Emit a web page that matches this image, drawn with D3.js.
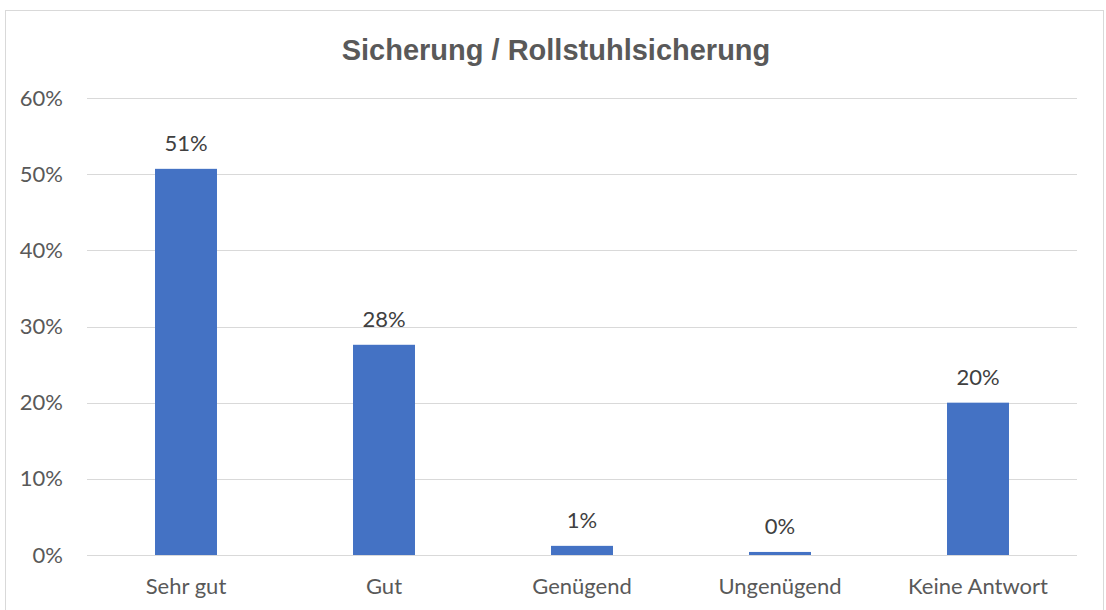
<!DOCTYPE html>
<html lang="de">
  <head>
    <meta charset="utf-8">
    <title>Sicherung / Rollstuhlsicherung</title>
    <script src="https://d3js.org/d3.v7.min.js"></script>
    <style>
      body { margin: 0; background: #fff; }
      .tick text { font-family: Lato, "Open Sans", sans-serif; font-size: 22px; fill: #595959; }
    </style>
  </head>
  <body>
    <script type="text/javascript">
    // chart data
    var categories = ["Sehr gut", "Gut", "Genügend", "Ungenügend", "Keine Antwort"];
    var values = [0.507, 0.276, 0.012, 0.004, 0.200];
    var labels = ["51%", "28%", "1%", "0%", "20%"];
    var yTicks = [0, 0.1, 0.2, 0.3, 0.4, 0.5, 0.6];

    var w = 1106;
    var h = 610;
    var margin = { top: 98, right: 29, bottom: 55, left: 87 };

    var svg = d3.select("body")
                .append("svg")
                .attr("width", w)
                .attr("height", h);

    // outer chart border
    svg.append("rect")
       .attr("x", 5.5)
       .attr("y", 10.5)
       .attr("width", 1098)
       .attr("height", 610)
       .attr("fill", "none")
       .attr("stroke", "#d9d9d9");

    var xScale = d3.scaleBand()
                   .domain(categories)
                   .range([margin.left, w - margin.right])
                   .paddingInner(0.687)
                   .paddingOuter(0.3435);

    var yScale = d3.scaleLinear()
                   .domain([0, 0.6])
                   .range([h - margin.bottom, margin.top]);

    // gridlines
    svg.append("g")
       .selectAll("line")
       .data(yTicks)
       .enter()
       .append("line")
       .attr("x1", margin.left)
       .attr("x2", w - margin.right)
       .attr("y1", function(d) { return Math.round(yScale(d)) + 0.5; })
       .attr("y2", function(d) { return Math.round(yScale(d)) + 0.5; })
       .attr("stroke", "#d9d9d9")
       .attr("stroke-width", 1);

    // y axis (labels only)
    var yAxis = d3.axisLeft(yScale)
                  .tickValues(yTicks)
                  .tickFormat(d3.format(".0%"))
                  .tickSize(0)
                  .tickPadding(24);
    svg.append("g")
       .attr("transform", "translate(" + margin.left + ",0)")
       .call(yAxis)
       .call(function(g) { g.select(".domain").remove(); });

    // x axis (labels only)
    var xAxis = d3.axisBottom(xScale).tickSize(0).tickPadding(23);
    svg.append("g")
       .attr("transform", "translate(0," + (h - margin.bottom) + ")")
       .call(xAxis)
       .call(function(g) { g.select(".domain").remove(); });

    // bars
    svg.selectAll("rect.bar")
       .data(values)
       .enter()
       .append("rect")
       .attr("class", "bar")
       .attr("x", function(d, i) { return xScale(categories[i]); })
       .attr("y", function(d) { return yScale(d); })
       .attr("width", xScale.bandwidth())
       .attr("height", function(d) { return yScale(0) - yScale(d); })
       .attr("fill", "#4472c4");

    // data labels
    svg.selectAll("text.lbl")
       .data(values)
       .enter()
       .append("text")
       .attr("class", "lbl")
       .attr("x", function(d, i) { return xScale(categories[i]) + xScale.bandwidth() / 2; })
       .attr("y", function(d) { return yScale(d) - 18; })
       .attr("text-anchor", "middle")
       .style("font-family", "Lato, 'Open Sans', sans-serif")
       .style("font-size", "22px")
       .style("fill", "#404040")
       .text(function(d, i) { return labels[i]; });

    // title
    svg.append("text")
       .attr("x", 556)
       .attr("y", 60)
       .attr("text-anchor", "middle")
       .style("font-family", "'Liberation Sans', Arial, sans-serif")
       .style("font-weight", "bold")
       .style("font-size", "29px")
       .style("fill", "#595959")
       .text("Sicherung / Rollstuhlsicherung");
    </script>
  </body>
</html>
